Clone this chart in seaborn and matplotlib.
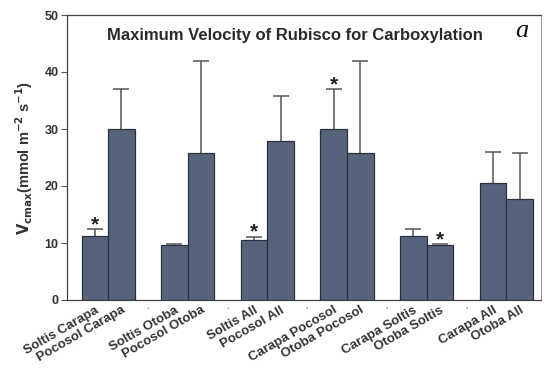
import matplotlib
matplotlib.use("Agg")
import matplotlib.pyplot as plt
import seaborn as sns
import numpy as np
import pandas as pd

# Pairwise comparisons (first site vs second site), means and upper error
comparisons = ["Soltis Carapa", "Pocosol Carapa",
               "Soltis Otoba", "Pocosol Otoba",
               "Soltis All", "Pocosol All",
               "Carapa Pocosol", "Otoba Pocosol",
               "Carapa Soltis", "Otoba Soltis",
               "Carapa All", "Otoba All"]
vcmax_mean = [11.3, 30.0, 9.7, 25.8, 10.5, 27.9, 30.0, 25.8, 11.3, 9.7, 20.6, 17.7]
vcmax_err = [1.1, 7.0, 0.1, 16.1, 0.6, 7.9, 7.0, 16.1, 1.1, 0.1, 5.3, 8.1]
significant = [True, False, False, False, True, False,
               True, False, False, True, False, False]
y_ticks = [0, 10, 20, 30, 40, 50]

# slot order with a blank spacer between each pair
gap_names = [" " * (i + 1) for i in range(5)]
order = []
for i in range(6):
    order += comparisons[2 * i:2 * i + 2]
    if i < 5:
        order.append(gap_names[i])
tick_text = ["-" if o.strip() == "" else o for o in order]

df = pd.DataFrame({"comparison": comparisons, "vcmax": vcmax_mean})

sns.set_style("white")
plt.rcParams["font.family"] = ["Liberation Sans", "DejaVu Sans"]

fig = plt.figure(figsize=(5.46, 3.88), dpi=100)
ax = fig.add_axes([67 / 546, 1 - 300 / 388, (541 - 67) / 546, (300 - 15) / 388])

bar_color = "#56637b"
sns.barplot(data=df, x="comparison", y="vcmax", order=order, color=bar_color,
            width=1.0, saturation=1, edgecolor="#2c323c", linewidth=0.9,
            errorbar=None, ax=ax)

xpos = np.array([order.index(c) for c in comparisons])
eb = ax.errorbar(xpos, vcmax_mean, yerr=[np.zeros(len(vcmax_err)), vcmax_err],
                 fmt="none", ecolor="#555555", elinewidth=1.1, capsize=5.5,
                 capthick=1.1, zorder=1)
# only the upper caps are shown
eb[1][0].set_visible(False)

for x, m, e, s in zip(xpos, vcmax_mean, vcmax_err, significant):
    if s:
        ax.text(x, m + e + 0.8, "*", ha="center", va="center",
                fontsize=15, fontweight="bold", color="#222222")

ax.set_xlim(-1.05, 16.81)
ax.set_ylim(0, 50)
ax.set_yticks(y_ticks)
ax.set_yticklabels([str(t) for t in y_ticks], fontsize=9, fontweight="bold",
                   color="#333333")
ax.tick_params(axis="y", direction="out", length=4, width=0.8, color="#555555", pad=2, left=True)
ax.tick_params(axis="x", length=0, pad=3)
ax.set_xticks(range(len(order)))
labels = ax.set_xticklabels(tick_text, rotation=30, ha="right", rotation_mode="anchor",
                            fontsize=9.5, fontweight="bold", color="#333333")
for lab, t in zip(labels, tick_text):
    if t == "-":
        lab.set_fontsize(5)

ax.set_xlabel("")
ax.set_ylabel(r"$\mathbf{V_{cmax}}$(mmol m$^{\mathbf{-2}}$ s$^{\mathbf{-1}}$)",
              fontsize=10.5, fontweight="bold", color="#333333", labelpad=7)

for side in ["left", "bottom", "top"]:
    ax.spines[side].set_color("#444444")
    ax.spines[side].set_linewidth(0.9)
ax.spines["right"].set_color("#999999")
ax.spines["right"].set_linewidth(0.8)

ax.text(0.481, 0.928, "Maximum Velocity of Rubisco for Carboxylation",
        transform=ax.transAxes, ha="center", va="center",
        fontsize=12, fontweight="bold", color="#2a2a2a")
ax.text(0.96, 0.945, "a", transform=ax.transAxes, ha="center", va="center",
        fontsize=19, style="italic", color="#111111",
        family=["Liberation Serif", "DejaVu Serif"])

fig.savefig("out.png", dpi=100, facecolor="white")
